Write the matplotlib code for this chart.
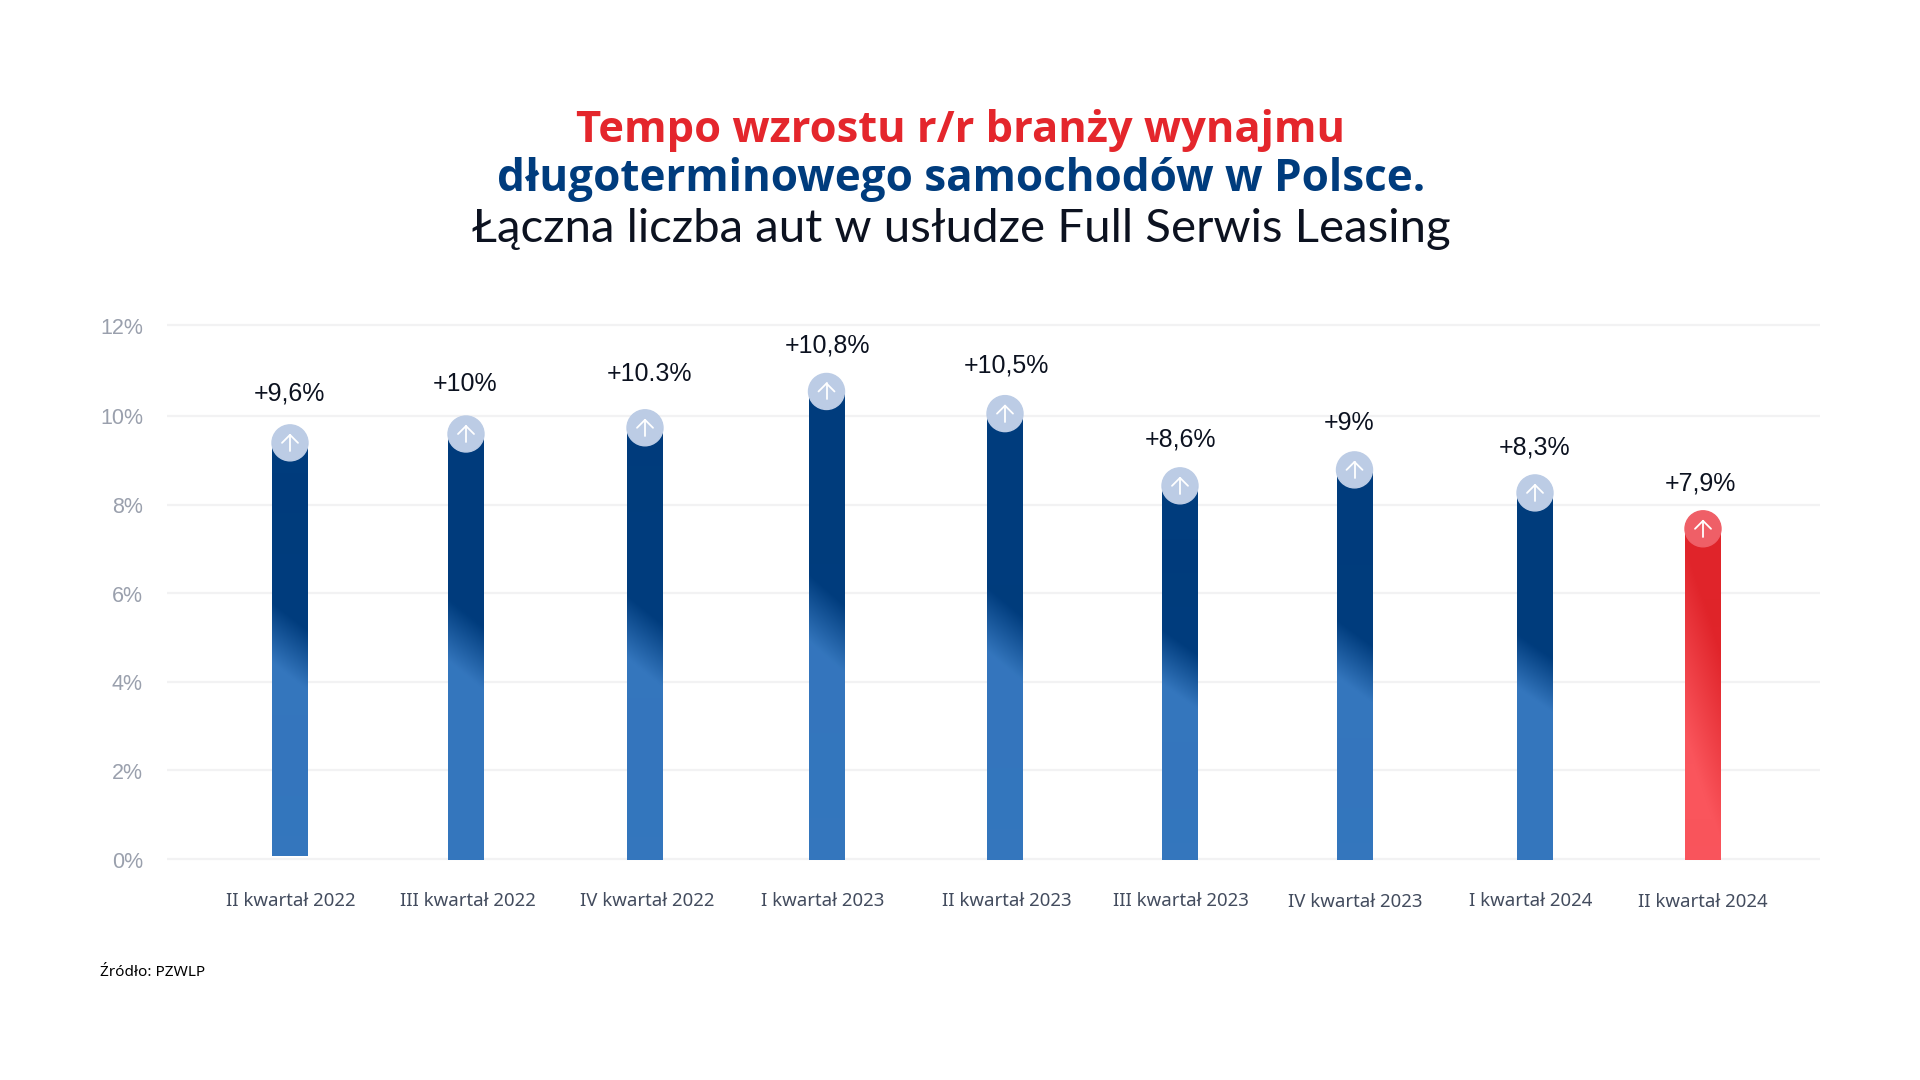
"""Tempo wzrostu r/r: gradient bars with round arrow badges."""
import matplotlib

matplotlib.use("Agg")
import matplotlib.pyplot as plt
import numpy as np
from matplotlib.patches import Circle, Rectangle

W, H = 1920, 1080

# data
quarters = ["II kwartał 2022", "III kwartał 2022", "IV kwartał 2022", "I kwartał 2023", "II kwartał 2023",
            "III kwartał 2023", "IV kwartał 2023", "I kwartał 2024", "II kwartał 2024"]
growth_labels = ["+9,6%", "+10%", "+10.3%", "+10,8%", "+10,5%", "+8,6%", "+9%", "+8,3%", "+7,9%"]
# drawn heights differ a little from the printed labels in the original
bar_tops = [9.80, 10.0, 10.14, 10.96, 10.46, 8.83, 9.19, 8.67, 7.86]
bar_bottoms = [0.07, -0.02, -0.02, -0.02, -0.02, -0.02, -0.02, -0.02, -0.02]
y_ticks = [0, 2, 4, 6, 8, 10, 12]
# the top gridline sits a little above its true place in the original
y_tick_places = [0, 2, 4, 6, 8, 10, 12.05]

# layout in pixels of the 1920x1080 canvas
bar_x = [290, 466, 645, 826.5, 1005, 1180, 1354.5, 1535, 1703]
label_x = [290.5, 468, 647, 823, 1006.5, 1180.5, 1355.5, 1531, 1703]
label_y = [901, 901, 901, 901, 901, 901, 902, 901, 902]
value_x = [289.5, 465, 649, 828, 1006.5, 1180.5, 1349, 1535, 1700]
value_y = [394, 384, 374, 346, 365, 440, 423, 448, 484]
BAR_W = 36
GRID_L, GRID_R = 167, 1820
Y0, PX_PER_UNIT = 859, 44.3
PAD = 11  # axes margin in px around the grid

BLUE_DARK = np.array([0x00, 0x3c, 0x7d]) / 255
BLUE_LIGHT = np.array([0x34, 0x76, 0xbd]) / 255
RED_DARK = np.array([0xe0, 0x24, 0x2a]) / 255
RED_LIGHT = np.array([0xfa, 0x55, 0x5c]) / 255


def px(x, y):
    return x / W, 1 - y / H


def gradient_image(top_px, bottom_px, dark, light, start, end, shift):
    """Diagonal gradient for one bar: light in the lower left, dark above."""
    h = int(bottom_px - top_px) + 1
    yy, xx = np.mgrid[0:h, 0:BAR_W]
    frac_y = yy / max(h - 1, 1)
    frac_x = (BAR_W - 1 - xx) / (BAR_W - 1)
    t = np.clip((frac_y + shift * frac_x - start) / (end - start), 0, 1)[..., None]
    return dark * (1 - t) + light * t


fig = plt.figure(figsize=(W / 100, H / 100), dpi=100, facecolor="white")
top_grid = Y0 - 12 * PX_PER_UNIT
ax = fig.add_axes([GRID_L / W, 1 - (Y0 + PAD) / H, (GRID_R - GRID_L) / W, (Y0 - top_grid + 2 * PAD) / H])
ax.axis("off")

for tick, place in zip(y_ticks, y_tick_places):
    ax.plot([GRID_L, GRID_R], [place, place], color="#f2f2f3", lw=1.6, zorder=1, solid_capstyle="butt")
    fig.text(*px(143, Y0 - place * PX_PER_UNIT + 3), f"{tick}%", ha="right", va="center",
             family="Liberation Sans", fontsize=15.5, color="#9aa0ad")

for i, x in enumerate(bar_x):
    red = i == len(bar_x) - 1
    top, bottom = bar_tops[i], bar_bottoms[i]
    top_px = Y0 - top * PX_PER_UNIT
    bottom_px = Y0 - bottom * PX_PER_UNIT
    if red:
        img = gradient_image(top_px, bottom_px, RED_DARK, RED_LIGHT, 0.40, 0.95, 0.30)
    else:
        img = gradient_image(top_px, bottom_px, BLUE_DARK, BLUE_LIGHT, 0.476, 0.615, 0.063)
    im = ax.imshow(img, extent=[x - BAR_W / 2, x + BAR_W / 2, bottom, top], aspect="auto", zorder=2,
                   interpolation="bilinear")
    # bar runs up to the middle of the badge
    badge_y = top - BAR_W / 2 / PX_PER_UNIT
    im.set_clip_path(Rectangle((x - BAR_W / 2, bottom), BAR_W, badge_y - bottom, transform=ax.transData))

    cy = Y0 - badge_y * PX_PER_UNIT
    face = "#ef5f67" if red else "#bccce5"
    fig.add_artist(Circle((x, H - cy), BAR_W / 2, transform=None, color=face, zorder=3))
    # white arrow
    arrow_kw = dict(color="white", lw=1.3, solid_capstyle="round", zorder=4)
    for seg in ([(x, cy - 8), (x, cy + 8)], [(x - 8, cy), (x, cy - 8)], [(x + 8, cy), (x, cy - 8)]):
        xs = [p[0] / W for p in seg]
        ys = [1 - p[1] / H for p in seg]
        fig.add_artist(plt.Line2D(xs, ys, transform=fig.transFigure, **arrow_kw))

    fig.text(*px(value_x[i], value_y[i]), growth_labels[i], ha="center", va="center",
             family="Liberation Sans", fontsize=18, color="#0c1220", zorder=5)
    fig.text(*px(label_x[i], label_y[i]), quarters[i], ha="center", va="center",
             family="Noto Sans", fontsize=13.4, color="#434c5e")

ax.set_xlim(GRID_L, GRID_R)
ax.set_ylim(-PAD / PX_PER_UNIT, 12 + PAD / PX_PER_UNIT)

# title, three lines in three colours
fig.text(*px(961, 130), "Tempo wzrostu r/r branży wynajmu", ha="center", va="center",
         family="Open Sans", fontweight="bold", fontsize=31.3, color="#e4262c")
fig.text(*px(961, 180), "długoterminowego samochodów w Polsce.", ha="center", va="center",
         family="Open Sans", fontweight="bold", fontsize=31.65, color="#003c7d")
fig.text(*px(961, 229), "Łączna liczba aut w usłudze Full Serwis Leasing", ha="center", va="center",
         family="Lato", fontsize=34.15, color="#0c1220")

fig.text(*px(100, 972), "Źródło: PZWLP", ha="left", va="center", family="Noto Sans", fontsize=11, color="black")

fig.savefig("out.png", dpi=100, facecolor="white")
plt.close(fig)
